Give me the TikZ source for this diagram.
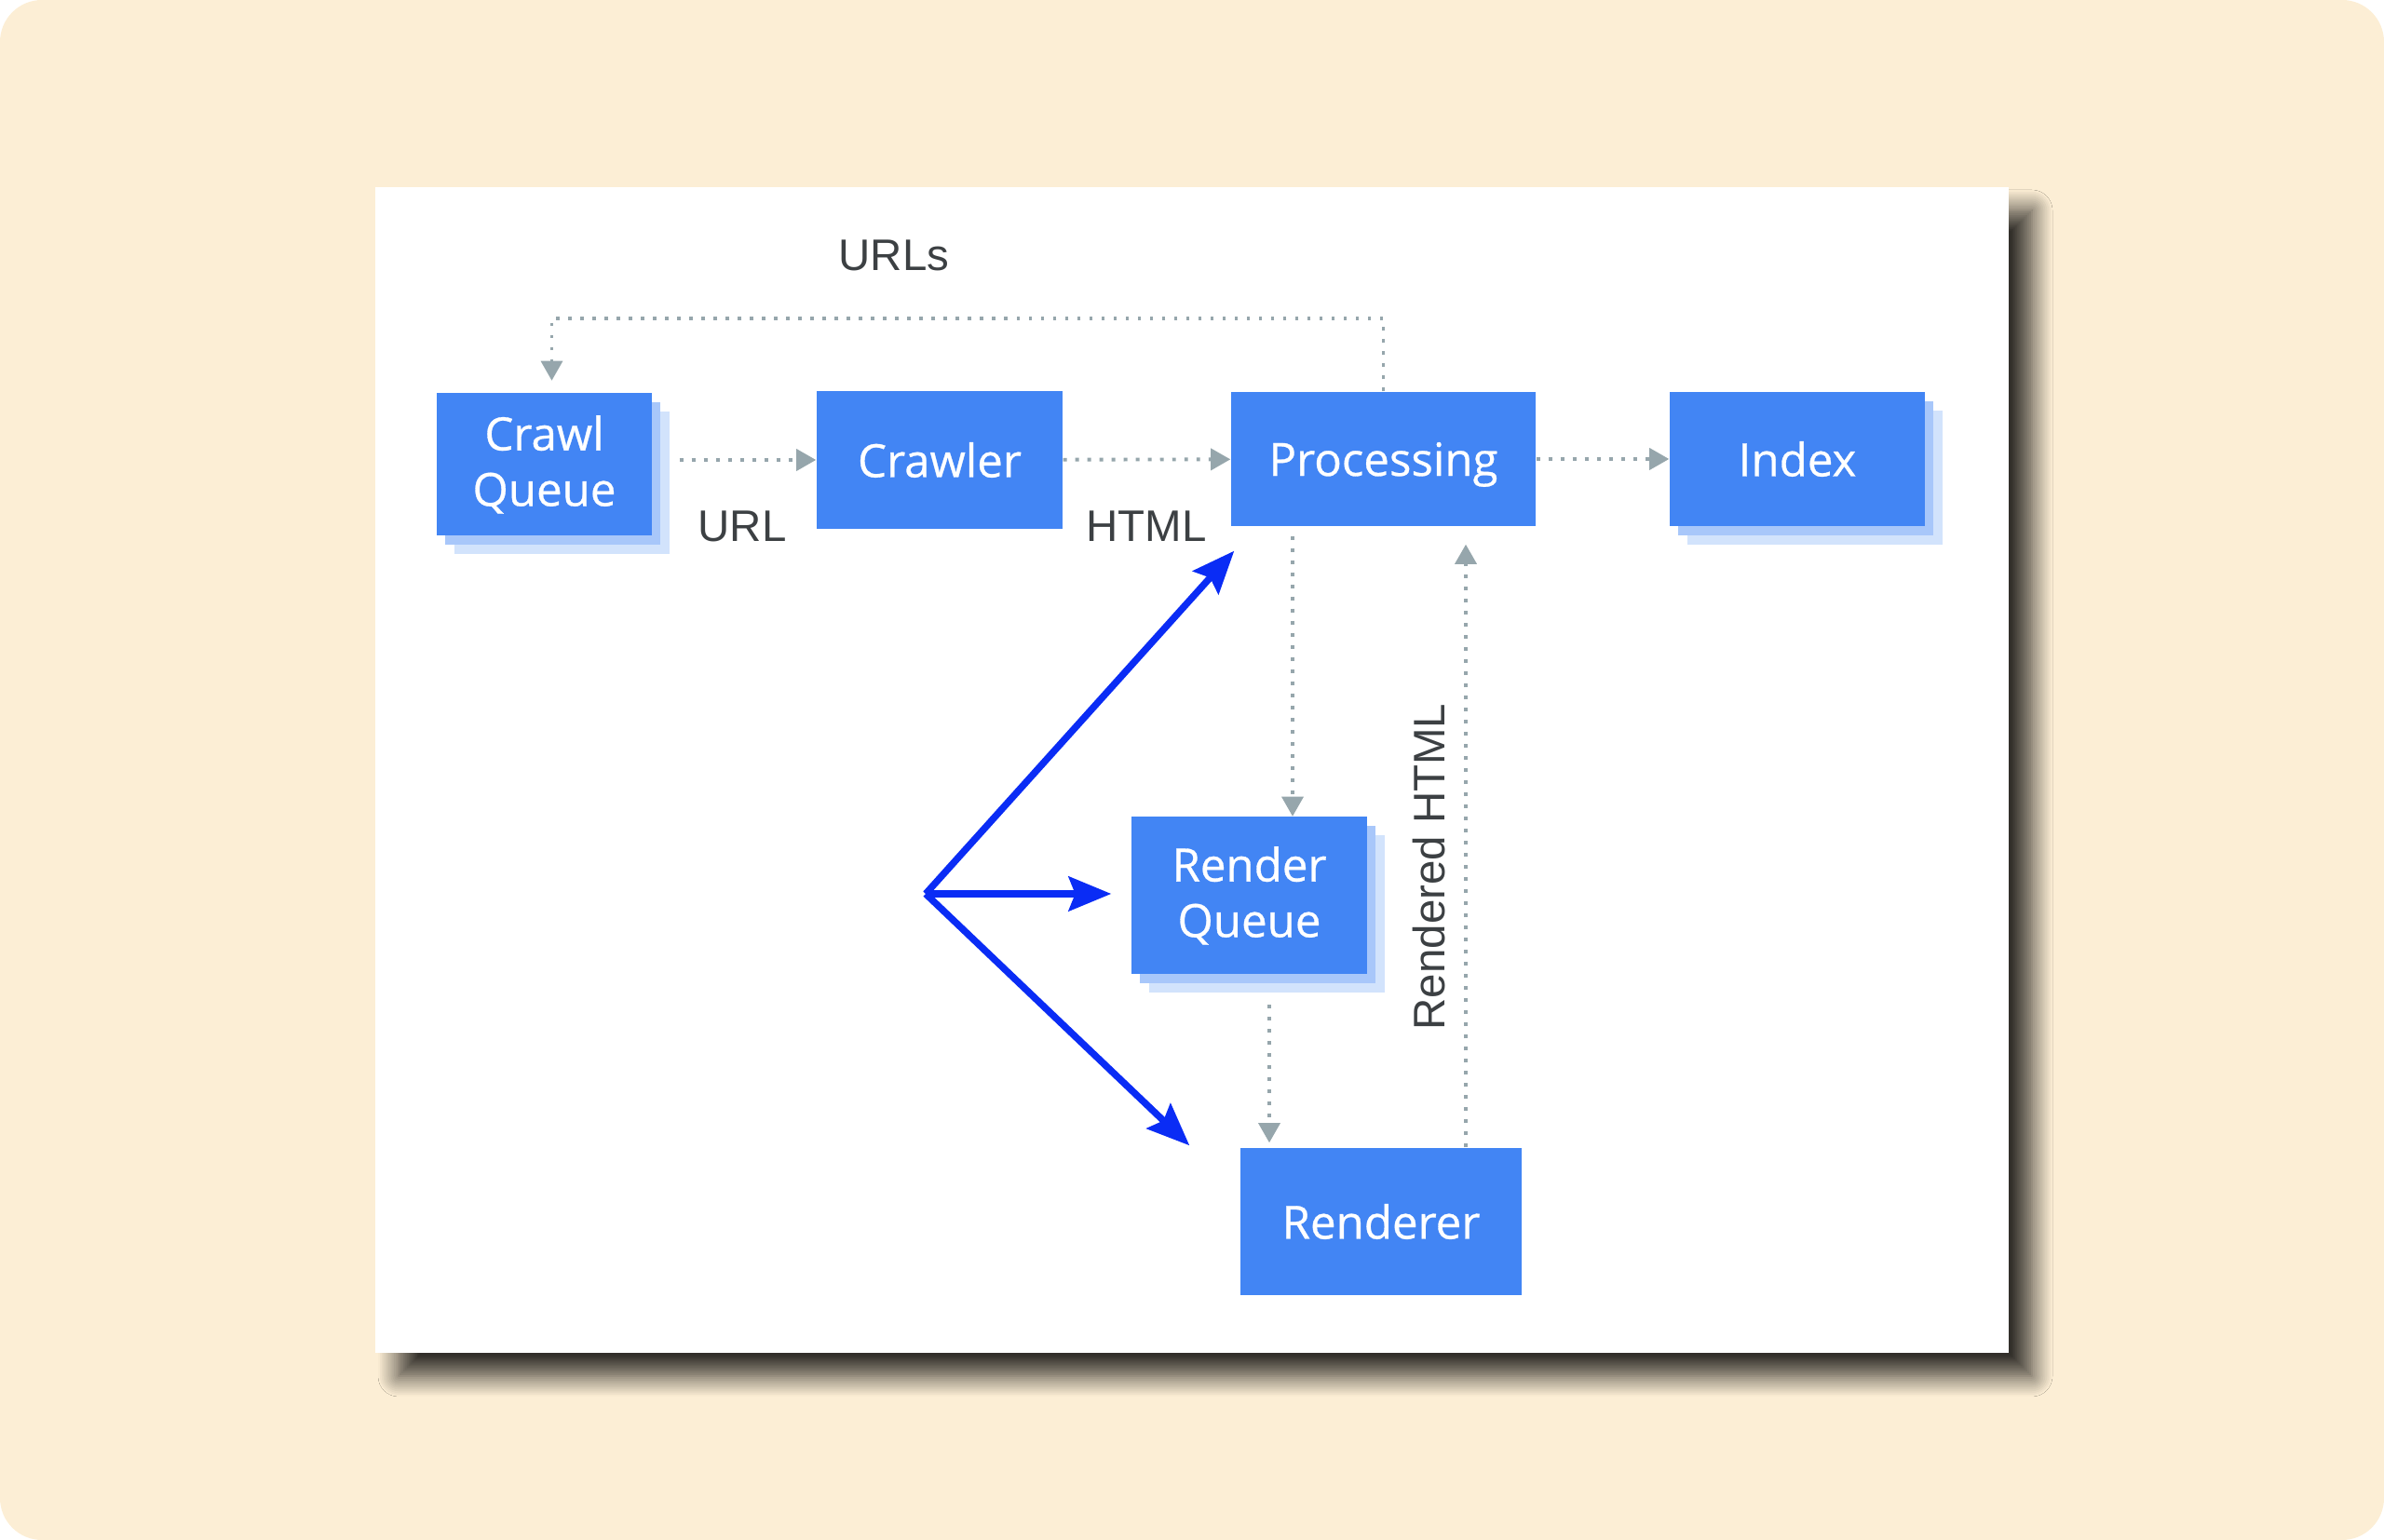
\documentclass[tikz,border=0pt]{standalone}
\usepackage{fontspec}
\setmainfont{Liberation Sans}
\newfontfamily\boxfont[FakeBold=0.6]{Open Sans}
\usetikzlibrary{arrows.meta,shadows,shadows.blur}
\definecolor{cream}{RGB}{252,238,213}
\definecolor{gblue}{RGB}{66,133,244}
\definecolor{layerA}{RGB}{168,199,250}
\definecolor{layerB}{RGB}{210,227,252}
\definecolor{flowgray}{RGB}{150,166,172}
\definecolor{forkblue}{RGB}{10,44,245}
\definecolor{labelgray}{RGB}{60,64,67}

\begin{document}
\begin{tikzpicture}[
    stage/.style={fill=gblue, text=white, align=center, inner sep=0pt, font=\boxfont\fontsize{14}{17}\selectfont},
    stacked/.style={copy shadow={shadow xshift=0.19cm, shadow yshift=-0.2cm, fill=layerB, draw=none},
                    copy shadow={shadow xshift=0.09cm, shadow yshift=-0.1cm, fill=layerA, draw=none}},
    lbl/.style={text=labelgray, font=\fontsize{13.5}{16}\selectfont},
    flow/.style={flowgray, line width=1.1pt, dash pattern=on 1.1pt off 2.6pt, -{Triangle[length=6pt, width=6.5pt]}},
    fork/.style={forkblue, line width=2.1pt, -{Stealth[length=13pt, width=10.5pt, inset=2pt]}}
]
    \useasboundingbox (0,0) rectangle (25.6,16.54);
    \fill[cream, rounded corners=0.45cm] (0,0) rectangle (25.6,16.54);

    % white card with its shadow
    \fill[white, blur shadow={shadow xshift=0.25cm, shadow yshift=-0.25cm, shadow blur radius=0.22cm, shadow opacity=80, shadow blur steps=12}]
        (4.03,2.01) rectangle (21.57,14.53);

    % stages
    \node[stage, stacked, minimum width=2.31cm, minimum height=1.53cm] (cqueue) at (5.845,11.55) {Crawl\\Queue};
    \node[stage, minimum width=2.64cm, minimum height=1.48cm] (crawler) at (10.09,11.6) {Crawler};
    \node[stage, text depth=0pt, minimum width=3.27cm, minimum height=1.44cm] (proc) at (14.855,11.61) {Processing};
    \node[stage, stacked, minimum width=2.74cm, minimum height=1.44cm] (index) at (19.30,11.61) {Index};
    \node[stage, stacked, minimum width=2.53cm, minimum height=1.69cm] (rqueue) at (13.415,6.92) {Render\\Queue};
    \node[stage, minimum width=3.02cm, minimum height=1.58cm] (renderer) at (14.83,3.42) {Renderer};

    % labels
    \node[lbl] (urls) at (9.60,13.80) {URLs};
    \node[lbl] (url) at (7.97,10.89) {URL};
    \node[lbl] (html) at (12.31,10.89) {HTML};
    \node[lbl, rotate=90] (rhtml) at (15.35,7.23) {Rendered HTML};

    % dotted flows
    \draw[flow, shorten <=0.29cm] (cqueue.east |- crawler) -- (crawler);
    \draw[flow] (crawler) -- (proc);
    \draw[flow] (proc) -- (index);
    \draw[flow, shorten >=0.13cm] (proc.north) -- ++(0,0.78) -| ([xshift=0.08cm]cqueue.north);
    \draw[flow, shorten <=0.1cm] ([xshift=-0.975cm]proc.south) -- ([xshift=-0.975cm]proc.south |- rqueue.north);
    \draw[flow, shorten <=0.32cm, shorten >=0.05cm] ([xshift=0.215cm]rqueue.south) -- ([xshift=0.215cm]rqueue.south |- renderer.north);
    \draw[flow, shorten >=0.19cm] ([xshift=0.91cm]renderer.north) -- ([xshift=0.91cm]renderer.north |- proc.south);

    % blue fork
    \coordinate (split) at (9.94,6.94);
    \draw[fork] (split) -- ([shift={(0.04,-0.26)}]proc.south west);
    \draw[fork] (split) -- ([xshift=-0.21cm]rqueue.west |- split);
    \draw[fork] (split) -- ([shift={(-0.54,0.02)}]renderer.north west);
\end{tikzpicture}
\end{document}
